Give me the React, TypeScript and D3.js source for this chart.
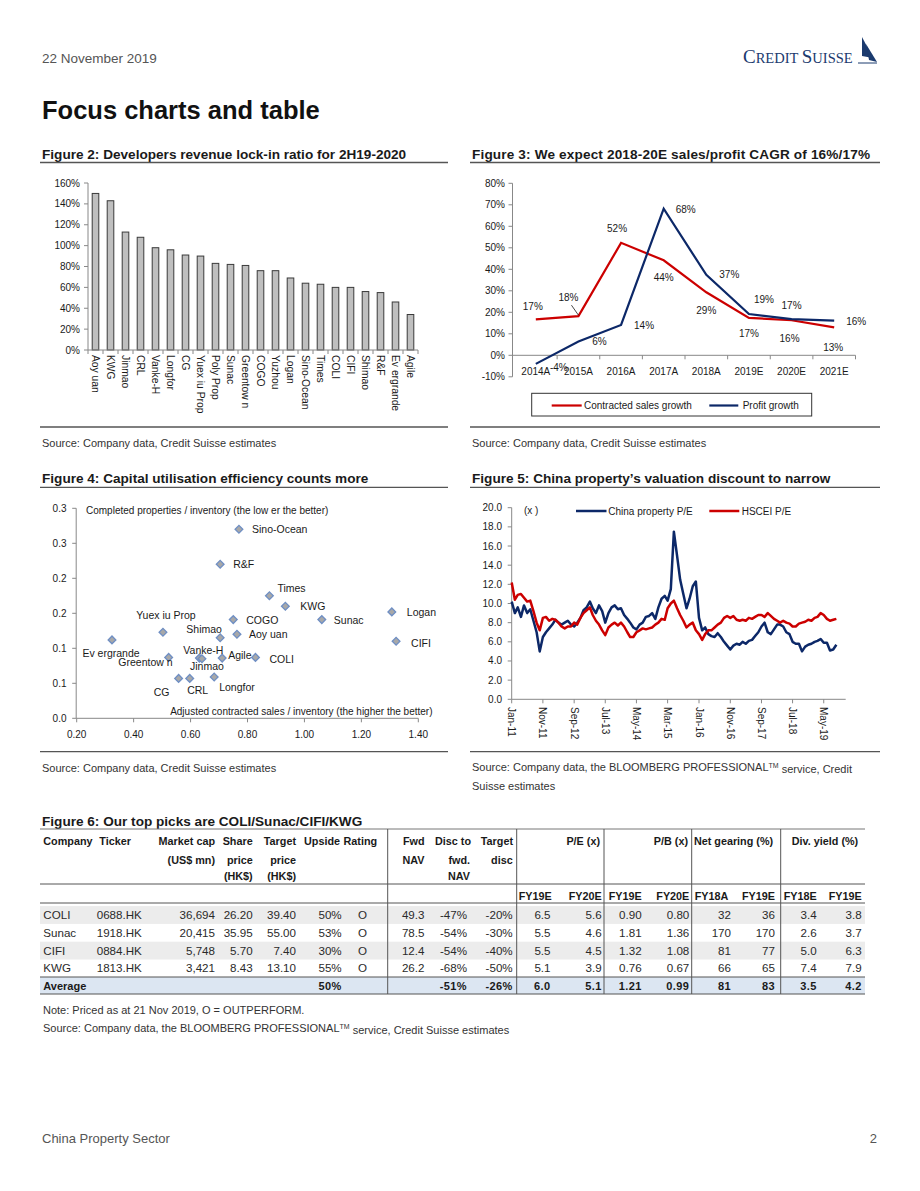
import React from "react";
import * as d3 from "d3";

const FONT = "'Liberation Sans', Arial, Helvetica, sans-serif";
const INK = "#1a1a1a";
const SOFT = "#333333";
const RED = "#cc0000";
const NAVY = "#0c2868";

// ---------------- Figure 2 data ----------------
const lockInCompanies = ["Aoy uan", "KWG", "Jinmao", "CRL", "Vanke-H", "Longfor", "CG", "Yuex iu Prop", "Poly Prop", "Sunac", "Greentow n", "COGO", "Yuzhou", "Logan", "Sino-Ocean", "Times", "COLI", "CIFI", "Shimao", "R&F", "Ev ergrande", "Agile"];
const lockInRatio = [150, 143, 113, 108, 98, 96, 91, 90, 83, 82, 81, 76, 76, 69, 64, 63, 60, 60, 56, 55, 46, 34];
const lockInTicks = [0, 20, 40, 60, 80, 100, 120, 140, 160];

// ---------------- Figure 3 data ----------------
const cagrYears = ["2014A", "2015A", "2016A", "2017A", "2018A", "2019E", "2020E", "2021E"];
const contractedSalesGrowth = [16.7, 18.2, 52.3, 44.2, 29.3, 17.4, 16.3, 13.0];
const profitGrowth = [-4.0, 6.4, 14.1, 68.2, 37.4, 19.2, 16.8, 16.1];
const cagrTicks = [-10, 0, 10, 20, 30, 40, 50, 60, 70, 80];

// ---------------- Figure 4 data ----------------
const scatterNames = ["Sino-Ocean", "R&F", "Times", "KWG", "Logan", "Sunac", "COGO", "Yuex iu Prop", "Shimao", "Aoy uan", "Ev ergrande", "CIFI", "Greentow n", "Vanke-H", "Jinmao", "Agile", "COLI", "CG", "CRL", "Longfor"];
const salesToInventory = [0.770, 0.704, 0.877, 0.933, 1.307, 1.061, 0.750, 0.503, 0.704, 0.763, 0.324, 1.322, 0.523, 0.631, 0.640, 0.711, 0.828, 0.558, 0.597, 0.683];
const completedToInventory = [0.270, 0.220, 0.175, 0.160, 0.152, 0.141, 0.141, 0.123, 0.115, 0.120, 0.112, 0.110, 0.087, 0.086, 0.085, 0.086, 0.087, 0.057, 0.057, 0.059];
const scatterXTicks = [0.2, 0.4, 0.6, 0.8, 1.0, 1.2, 1.4];
const scatterYTicks = [0, 0.05, 0.1, 0.15, 0.2, 0.25, 0.3];
const scatterYTickLabels = ["0.0", "0.1", "0.1", "0.2", "0.2", "0.3", "0.3"];

// ---------------- Figure 5 data (monthly readings from Jan-11) ----------------
const peStart = "Jan-11";
const chinaPropertyPE = [
  10.2, 9.0, 9.6, 8.6, 9.8, 9.0, 9.4, 8.2, 7.0, 5.0, 6.5, 7.0,
  7.4, 7.8, 8.3, 8.0, 7.8, 8.0, 8.2, 7.8, 7.6, 8.0, 8.5, 9.3,
  9.6, 10.2, 9.5, 9.0, 9.8, 9.2, 8.0, 9.0, 9.6, 9.8, 9.4, 9.5,
  8.8, 8.4, 8.0, 7.5, 7.3, 7.8, 8.0, 8.6, 8.7, 9.0, 8.4, 9.6,
  10.5, 10.8, 10.3, 11.5, 17.5, 15.0, 12.5, 11.0, 9.5, 10.5, 11.8, 12.3,
  8.5, 7.2, 7.5, 6.8, 6.6, 6.5, 6.9, 6.5, 6.0, 5.6, 5.2, 5.6,
  5.8, 5.7, 6.0, 5.8, 6.1, 6.2, 6.6, 7.0, 7.6, 8.0, 7.0, 6.8,
  7.3, 7.8, 7.8, 7.6, 7.0, 6.8, 6.0, 5.8, 5.8, 5.0, 5.5, 5.7,
  5.8, 6.0, 6.1, 6.3, 5.9, 5.9, 5.1, 5.2, 5.7,
];
const hsceiPE = [
  12.2, 10.4, 10.9, 11.0, 10.6, 10.2, 10.3, 9.2, 8.0, 7.2, 8.5, 8.6,
  8.2, 8.4, 8.3, 8.0, 7.6, 7.4, 7.6, 7.6, 8.0, 7.8, 8.5, 9.0,
  9.3, 9.6, 8.8, 8.2, 7.8, 7.2, 6.7, 7.5, 7.8, 8.0, 7.7, 8.0,
  7.6, 7.0, 6.5, 6.5, 7.0, 7.2, 7.4, 7.3, 7.4, 7.5, 7.8, 8.0,
  8.4, 8.3, 9.5, 10.0, 10.3, 9.5, 8.8, 8.2, 7.5, 7.8, 8.0, 7.2,
  6.8, 6.2, 6.8, 7.2, 7.2, 7.5, 7.8, 8.0, 8.5, 8.7, 8.5, 8.7,
  8.3, 8.2, 8.3, 8.2, 8.5, 8.4, 8.6, 8.8, 8.8, 8.6, 9.0, 8.7,
  8.4, 8.2, 8.0, 8.2, 8.0, 7.9, 7.6, 7.6, 7.9, 8.0, 8.1, 8.3,
  8.2, 8.5, 8.6, 9.0, 8.8, 8.4, 8.2, 8.3, 8.4,
];
const peDateTicks = ["Jan-11", "Nov-11", "Sep-12", "Jul-13", "May-14", "Mar-15", "Jan-16", "Nov-16", "Sep-17", "Jul-18", "May-19"];
const peAxisEnd = "Dec-19";
const peYTicks = [0, 2, 4, 6, 8, 10, 12, 14, 16, 18, 20];

// ---------------- Figure 6 table data ----------------
const tblCompany = ["COLI", "Sunac", "CIFI", "KWG"];
const tblTicker = ["0688.HK", "1918.HK", "0884.HK", "1813.HK"];
const tblMarketCap = [36694, 20415, 5748, 3421];
const tblSharePrice = [26.2, 35.95, 5.7, 8.43];
const tblTargetPrice = [39.4, 55.0, 7.4, 13.1];
const tblUpside = [50, 53, 30, 55];
const tblRating = ["O", "O", "O", "O"];
const tblFwdNav = [49.3, 78.5, 12.4, 26.2];
const tblDiscNav = [-47, -54, -54, -68];
const tblTargetDisc = [-20, -30, -40, -50];
const tblPE19 = [6.5, 5.5, 5.5, 5.1];
const tblPE20 = [5.6, 4.6, 4.5, 3.9];
const tblPB19 = [0.9, 1.81, 1.32, 0.76];
const tblPB20 = [0.8, 1.36, 1.08, 0.67];
const tblGear18 = [32, 170, 81, 66];
const tblGear19 = [36, 170, 77, 65];
const tblDiv18 = [3.4, 2.6, 5.0, 7.4];
const tblDiv19 = [3.8, 3.7, 6.3, 7.9];
const avgUpside = 50;
const avgDiscNav = -51;
const avgTargetDisc = -26;
const avgPE = [6.0, 5.1];
const avgPB = [1.21, 0.99];
const avgGearing = [81, 83];
const avgDivYield = [3.5, 4.2];

// ---------------- layout for labels ----------------
const salesLabelOffset = [[-3, -13], [-10, -19], [-4, -14], [0, 17], [0, 18], [0, 16], [-2, 18], [-1, 20]];
const profitLabelOffset = [[23, 4], [21, 0], [23, 1], [22, 1], [23, 0], [15, -15], [0, -14], [22, 1]];
const scatterLabelLayout: [string, number, number][] = [
  ["start", 13, 0], ["start", 13, 0], ["start", 8, -7], ["start", 15, 0], ["start", 15, 0],
  ["start", 12, 1], ["start", 13, 1], ["middle", 3, -17], ["middle", -16, -8], ["start", 12, 0],
  ["middle", -1, 13], ["start", 15, 2], ["end", 4, 5], ["middle", 4, -8], ["middle", 5, 8],
  ["start", 6, -3], ["start", 14, 2], ["middle", -17, 14], ["middle", 8, 12], ["start", 5, 10],
];

function Rule({ x1, x2, y }: { x1: number; x2: number; y: number }) {
  return <line x1={x1} x2={x2} y1={y} y2={y} stroke="#555" strokeWidth={1.3} />;
}

function Title({ x, y, text, spacing = 0 }: { x: number; y: number; text: string; spacing?: number }) {
  return (
    <text x={x} y={y} fontFamily={FONT} fontWeight="bold" fontSize={13.6} fill={INK} dy="0.35em" letterSpacing={spacing}>
      {text}
    </text>
  );
}

function Source({ x, y, children }: { x: number; y: number; children: React.ReactNode }) {
  return (
    <text x={x} y={y} fontFamily={FONT} fontSize={11} fill={SOFT} dy="0.35em">
      {children}
    </text>
  );
}

function Figure2() {
  const y = d3.scaleLinear().domain([0, 160]).range([350, 183]);
  const x = d3.scaleBand<string>().domain(lockInCompanies).range([88, 418]).paddingInner(0.56).paddingOuter(0.28);
  const step = x.step();
  return (
    <g fontFamily={FONT} fontSize={10} fill={INK}>
      <Title x={42} y={154} text="Figure 2: Developers revenue lock-in ratio for 2H19-2020" />
      <Rule x1={40} x2={448} y={162.5} />
      <line x1={88} x2={88} y1={183} y2={350} stroke="#888" />
      {lockInTicks.map((t) => (
        <g key={t}>
          <line x1={84} x2={88} y1={y(t)} y2={y(t)} stroke="#888" />
          <text x={80} y={y(t)} textAnchor="end" dy="0.35em">{`${t}%`}</text>
        </g>
      ))}
      {lockInCompanies.map((c, i) => (
        <rect key={c} x={x(c)} y={y(lockInRatio[i])} width={x.bandwidth()} height={y(0) - y(lockInRatio[i])} fill="#bfbfbf" stroke="#3a3a3a" strokeWidth={1} />
      ))}
      <line x1={88} x2={418} y1={350} y2={350} stroke="#888" />
      {lockInCompanies.map((c, i) => (
        <line key={"t" + c} x1={88 + step * i} x2={88 + step * i} y1={350} y2={354} stroke="#888" />
      ))}
      <line x1={418} x2={418} y1={350} y2={354} stroke="#888" />
      {lockInCompanies.map((c) => {
        const cx = (x(c) as number) + x.bandwidth() / 2;
        return (
          <text key={"l" + c} transform={`translate(${cx},355) rotate(90)`} dy="0.35em" textAnchor="start" fontSize={10.3}>
            {c}
          </text>
        );
      })}
      <Rule x1={40} x2={448} y={427} />
      <Source x={42} y={443}>Source: Company data, Credit Suisse estimates</Source>
    </g>
  );
}

function Figure3() {
  const y = d3.scaleLinear().domain([-10, 80]).range([376.8, 183.3]);
  const x = d3.scaleBand<string>().domain(cagrYears).range([514.5, 855.5]);
  const cx = (c: string) => (x(c) as number) + x.bandwidth() / 2;
  const line = d3.line<number>().x((_, i) => cx(cagrYears[i])).y((d) => y(d));
  const pct = (v: number) => `${Math.round(v)}%`;
  return (
    <g fontFamily={FONT} fontSize={10} fill={INK}>
      <Title x={472} y={154} text="Figure 3: We expect 2018-20E sales/profit CAGR of 16%/17%" spacing={0.15} />
      <Rule x1={470} x2={880} y={162.5} />
      <line x1={512.5} x2={512.5} y1={183.3} y2={376.8} stroke="#888" />
      {cagrTicks.map((t) => (
        <g key={t}>
          <line x1={508.5} x2={512.5} y1={y(t)} y2={y(t)} stroke="#888" />
          <text x={505} y={y(t)} textAnchor="end" dy="0.35em">{`${t}%`}</text>
        </g>
      ))}
      <line x1={512.5} x2={855.5} y1={y(0)} y2={y(0)} stroke="#888" />
      {cagrYears.map((c) => (
        <line key={"t" + c} x1={(x(c) as number) + x.bandwidth()} x2={(x(c) as number) + x.bandwidth()} y1={y(0)} y2={y(0) + 4} stroke="#888" />
      ))}
      {cagrYears.map((c) => (
        <text key={"c" + c} x={cx(c)} y={371} textAnchor="middle" dy="0.35em">{c}</text>
      ))}
      <path d={line(contractedSalesGrowth) || ""} fill="none" stroke={RED} strokeWidth={2.2} />
      <path d={line(profitGrowth) || ""} fill="none" stroke={NAVY} strokeWidth={2.2} />
      {contractedSalesGrowth.map((v, i) => (
        <text key={"s" + i} x={cx(cagrYears[i]) + salesLabelOffset[i][0]} y={y(v) + salesLabelOffset[i][1]} textAnchor="middle" dy="0.35em">{pct(v)}</text>
      ))}
      <line x1={cx(cagrYears[1]) - 7} x2={cx(cagrYears[1])} y1={y(contractedSalesGrowth[1]) - 11} y2={y(contractedSalesGrowth[1]) - 1} stroke={INK} strokeWidth={0.8} />
      {profitGrowth.map((v, i) => (
        <text key={"p" + i} x={cx(cagrYears[i]) + profitLabelOffset[i][0]} y={y(v) + profitLabelOffset[i][1]} textAnchor="middle" dy="0.35em">{pct(v)}</text>
      ))}
      <rect x={531.7} y={393.3} width={280} height={22.7} fill="#fff" stroke="#333" strokeWidth={1} />
      <line x1={551.7} x2={581.7} y1={405.5} y2={405.5} stroke={RED} strokeWidth={2.2} />
      <text x={584} y={405.5} dy="0.35em">Contracted sales growth</text>
      <line x1={709.3} x2={738.3} y1={405.5} y2={405.5} stroke={NAVY} strokeWidth={2.2} />
      <text x={742.7} y={405.5} dy="0.35em">Profit growth</text>
      <Rule x1={470} x2={880} y={427} />
      <Source x={472} y={443}>Source: Company data, Credit Suisse estimates</Source>
    </g>
  );
}

function Figure4() {
  const x = d3.scaleLinear().domain([0.2, 1.4]).range([76.7, 418.3]);
  const y = d3.scaleLinear().domain([0, 0.3]).range([718.3, 508.3]);
  const diamond = d3.symbol().type(d3.symbolSquare).size(30)() || "";
  return (
    <g fontFamily={FONT} fontSize={10} fill={INK}>
      <Title x={42} y={478.5} text="Figure 4: Capital utilisation efficiency counts more" />
      <Rule x1={40} x2={448} y={487.3} />
      <line x1={76.2} x2={76.2} y1={508.3} y2={718.3} stroke="#888" />
      {scatterYTicks.map((t, i) => (
        <g key={t}>
          <line x1={72.2} x2={76.2} y1={y(t)} y2={y(t)} stroke="#888" />
          <text x={66.5} y={y(t)} textAnchor="end" dy="0.35em">{scatterYTickLabels[i]}</text>
        </g>
      ))}
      <line x1={76.2} x2={418.3} y1={718.3} y2={718.3} stroke="#888" />
      {scatterXTicks.map((t) => (
        <g key={t}>
          <line x1={x(t)} x2={x(t)} y1={718.3} y2={722.3} stroke="#888" />
          <text x={x(t)} y={734.5} textAnchor="middle" dy="0.35em">{t.toFixed(2)}</text>
        </g>
      ))}
      <text x={86} y={510} dy="0.35em">Completed properties / inventory (the low er the better)</text>
      <text x={432.5} y={711.5} dy="0.35em" textAnchor="end">Adjusted contracted sales / inventory (the higher the better)</text>
      {scatterNames.map((n, i) => (
        <path key={"d" + n} d={diamond} transform={`translate(${x(salesToInventory[i])},${y(completedToInventory[i])}) rotate(45)`} fill="#a8a8a8" stroke="#6f8fc4" strokeWidth={1.3} />
      ))}
      {scatterNames.map((n, i) => {
        const [anchor, dx, dy] = scatterLabelLayout[i];
        return (
          <text key={"n" + n} x={x(salesToInventory[i]) + dx} y={y(completedToInventory[i]) + dy} textAnchor={anchor as any} dy="0.35em" fontSize={10.5}>
            {n}
          </text>
        );
      })}
      <Rule x1={40} x2={448} y={751.7} />
      <Source x={42} y={768}>Source: Company data, Credit Suisse estimates</Source>
    </g>
  );
}

function Figure5() {
  const parse = d3.timeParse("%b-%y");
  const start = parse(peStart) as Date;
  const x = d3.scaleTime().domain([start, parse(peAxisEnd) as Date]).range([511.7, 845.7]);
  const y = d3.scaleLinear().domain([0, 20]).range([699.3, 507.7]);
  const line = d3.line<number>().x((_, i) => x(d3.timeMonth.offset(start, i))).y((d) => y(d));
  return (
    <g fontFamily={FONT} fontSize={10} fill={INK}>
      <Title x={472} y={478.5} text="Figure 5: China property’s valuation discount to narrow" />
      <Rule x1={470} x2={880} y={487.3} />
      <line x1={511.7} x2={511.7} y1={507.7} y2={699.3} stroke="#888" />
      {peYTicks.map((t) => (
        <g key={t}>
          <line x1={507.7} x2={511.7} y1={y(t)} y2={y(t)} stroke="#888" />
          <text x={502} y={y(t)} textAnchor="end" dy="0.35em">{t.toFixed(1)}</text>
        </g>
      ))}
      <path d={line(chinaPropertyPE) || ""} fill="none" stroke={NAVY} strokeWidth={2.5} strokeLinejoin="round" />
      <path d={line(hsceiPE) || ""} fill="none" stroke={RED} strokeWidth={2.5} strokeLinejoin="round" />
      <line x1={511.7} x2={845.7} y1={699.3} y2={699.3} stroke="#888" />
      {peDateTicks.map((t) => {
        const px = x(parse(t) as Date);
        return (
          <g key={t}>
            <line x1={px} x2={px} y1={699.3} y2={703.3} stroke="#888" />
            <text transform={`translate(${px},707) rotate(90)`} dy="0.35em" textAnchor="start">{t}</text>
          </g>
        );
      })}
      <text x={524} y={510} dy="0.35em">(x )</text>
      <line x1={576} x2={606.5} y1={511} y2={511} stroke={NAVY} strokeWidth={2.5} />
      <text x={608.3} y={511} dy="0.35em">China property P/E</text>
      <line x1={709.3} x2={739.3} y1={511} y2={511} stroke={RED} strokeWidth={2.5} />
      <text x={741.7} y={511} dy="0.35em">HSCEI P/E</text>
      <Rule x1={470} x2={880} y={751.7} />
      <Source x={472} y={767}>
        Source: Company data, the BLOOMBERG PROFESSIONAL<tspan fontSize={7} dy="-0.45em">TM</tspan>
        <tspan dy="0.45em"> service, Credit</tspan>
      </Source>
      <Source x={472} y={786}>Suisse estimates</Source>
    </g>
  );
}

function Figure6() {
  const rowY = (i: number) => 915 + 17.8 * i;
  const avgY = 986;
  const cols: { end?: number; mid?: number; start?: number; values: string[]; avg?: string }[] = [
    { start: 43.3, values: tblCompany },
    { start: 96.7, values: tblTicker },
    { end: 215, values: tblMarketCap.map((v) => d3.format(",")(v)) },
    { end: 252.7, values: tblSharePrice.map((v) => v.toFixed(2)) },
    { end: 296, values: tblTargetPrice.map((v) => v.toFixed(2)) },
    { end: 341.7, values: tblUpside.map((v) => `${v}%`), avg: `${avgUpside}%` },
    { mid: 362.5, values: tblRating },
    { end: 424.5, values: tblFwdNav.map((v) => v.toFixed(1)) },
    { end: 467, values: tblDiscNav.map((v) => `${v}%`), avg: `${avgDiscNav}%` },
    { end: 512.7, values: tblTargetDisc.map((v) => `${v}%`), avg: `${avgTargetDisc}%` },
    { end: 550.5, values: tblPE19.map((v) => v.toFixed(1)), avg: avgPE[0].toFixed(1) },
    { end: 601.7, values: tblPE20.map((v) => v.toFixed(1)), avg: avgPE[1].toFixed(1) },
    { end: 641.7, values: tblPB19.map((v) => v.toFixed(2)), avg: avgPB[0].toFixed(2) },
    { end: 689.3, values: tblPB20.map((v) => v.toFixed(2)), avg: avgPB[1].toFixed(2) },
    { end: 731, values: tblGear18.map((v) => `${v}`), avg: `${avgGearing[0]}` },
    { end: 775, values: tblGear19.map((v) => `${v}`), avg: `${avgGearing[1]}` },
    { end: 816.7, values: tblDiv18.map((v) => v.toFixed(1)), avg: avgDivYield[0].toFixed(1) },
    { end: 861.7, values: tblDiv19.map((v) => v.toFixed(1)), avg: avgDivYield[1].toFixed(1) },
  ];
  const pos = (c: any) => (c.start !== undefined ? { x: c.start, a: "start" } : c.mid !== undefined ? { x: c.mid, a: "middle" } : { x: c.end, a: "end" });
  const headers: [number, number, string, string][] = [
    [43.3, 841.7, "start", "Company"], [99.3, 841.7, "start", "Ticker"], [215, 841.7, "end", "Market cap"],
    [252.7, 841.7, "end", "Share"], [296, 841.7, "end", "Target"], [304, 841.7, "start", "Upside"],
    [343.5, 841.7, "start", "Rating"], [424.5, 841.7, "end", "Fwd"], [471, 841.7, "end", "Disc to"],
    [513, 841.7, "end", "Target"], [600, 841.7, "end", "P/E (x)"], [688, 841.7, "end", "P/B (x)"],
    [733.5, 841.7, "middle", "Net gearing (%)"], [825, 841.7, "middle", "Div. yield (%)"],
    [215, 860, "end", "(US$ mn)"], [252.7, 860, "end", "price"], [296, 860, "end", "price"],
    [424.5, 860, "end", "NAV"], [470, 860, "end", "fwd."], [512.7, 860, "end", "disc"],
    [252.7, 876.7, "end", "(HK$)"], [296, 876.7, "end", "(HK$)"], [470, 876.7, "end", "NAV"],
    [551.7, 896.7, "end", "FY19E"], [601.7, 896.7, "end", "FY20E"], [641.7, 896.7, "end", "FY19E"],
    [689.3, 896.7, "end", "FY20E"], [728.3, 896.7, "end", "FY18A"], [775, 896.7, "end", "FY19E"],
    [816.7, 896.7, "end", "FY18E"], [861.7, 896.7, "end", "FY19E"],
  ];
  const vlines = [387.7, 516.7, 604, 691.7, 780.7];
  return (
    <g fontFamily={FONT} fill={INK}>
      <Title x={42} y={821.5} text="Figure 6: Our top picks are COLI/Sunac/CIFI/KWG" />
      {tblCompany.map((_, i) => (i % 2 === 0 ? <rect key={"bg" + i} x={40} y={rowY(i) - 8.9} width={825} height={17.8} fill="#ececec" /> : null))}
      <rect x={40} y={977} width={825} height={17} fill="#dce6f2" />
      <line x1={40} x2={865} y1={829} y2={829} stroke="#777" strokeWidth={1} />
      <line x1={40} x2={865} y1={884} y2={884} stroke="#555" strokeWidth={1} />
      <line x1={40} x2={865} y1={903} y2={903} stroke="#555" strokeWidth={1} />
      <line x1={40} x2={865} y1={977} y2={977} stroke="#555" strokeWidth={1} />
      <line x1={40} x2={865} y1={994} y2={994} stroke="#555" strokeWidth={1} />
      {vlines.map((vx) => (
        <line key={vx} x1={vx} x2={vx} y1={829} y2={994} stroke="#555" strokeWidth={1} />
      ))}
      {headers.map(([hx, hy, a, t], i) => (
        <text key={"h" + i} x={hx} y={hy} textAnchor={a as any} dy="0.35em" fontWeight="bold" fontSize={10.8}>{t}</text>
      ))}
      {cols.map((c, ci) => {
        const p = pos(c);
        return c.values.map((v, ri) => (
          <text key={`c${ci}r${ri}`} x={p.x} y={rowY(ri)} textAnchor={p.a as any} dy="0.35em" fontSize={11.6} fill="#2a2a2a">{v}</text>
        ));
      })}
      <text x={43.3} y={avgY} dy="0.35em" fontWeight="bold" fontSize={11}>Average</text>
      {cols.map((c, ci) => {
        if (!c.avg) return null;
        const p = pos(c);
        return (
          <text key={"a" + ci} x={p.x} y={avgY} textAnchor={p.a as any} dy="0.35em" fontWeight="bold" fontSize={11} letterSpacing={0.4}>{c.avg}</text>
        );
      })}
      <Source x={43} y={1010}>Note: Priced as at 21 Nov 2019, O = OUTPERFORM.</Source>
      <Source x={43} y={1028.5}>
        Source: Company data, the BLOOMBERG PROFESSIONAL<tspan fontSize={7} dy="-0.45em">TM</tspan>
        <tspan dy="0.45em"> service, Credit Suisse estimates</tspan>
      </Source>
    </g>
  );
}

function Header() {
  return (
    <g>
      <text x={42} y={58} dy="0.35em" fontFamily={FONT} fontSize={13.5} fill="#555">22 November 2019</text>
      <text x={42} y={110} dy="0.35em" fontFamily={FONT} fontSize={25.5} fontWeight="bold" fill="#111">Focus charts and table</text>
      <text x={743} y={63} fontFamily="'Liberation Serif', 'DejaVu Serif', serif" fill="#1b3a6e">
        <tspan fontSize={19}>C</tspan>
        <tspan fontSize={14.5}>REDIT </tspan>
        <tspan fontSize={19}>S</tspan>
        <tspan fontSize={14.5}>UISSE</tspan>
      </text>
      <path d="M862,37 L873,58 L862,56 Z" fill="#1b3a6e" />
      <path d="M866,44 L877,62 L869,60 Z" fill="#1b3a6e" />
      <line x1={858} x2={877} y1={63} y2={63} stroke="#1b3a6e" strokeWidth={1} />
      <text x={42} y={1138} dy="0.35em" fontFamily={FONT} fontSize={13} fill="#555">China Property Sector</text>
      <text x={877} y={1138} dy="0.35em" textAnchor="end" fontFamily={FONT} fontSize={13} fill="#555">2</text>
    </g>
  );
}

export default function App() {
  return (
    <svg width={920} height={1191} viewBox="0 0 920 1191" style={{ position: "absolute", left: 0, top: 0, background: "#fff" }}>
      <rect x={0} y={0} width={920} height={1191} fill="#fff" />
      <Header />
      <Figure2 />
      <Figure3 />
      <Figure4 />
      <Figure5 />
      <Figure6 />
    </svg>
  );
}
